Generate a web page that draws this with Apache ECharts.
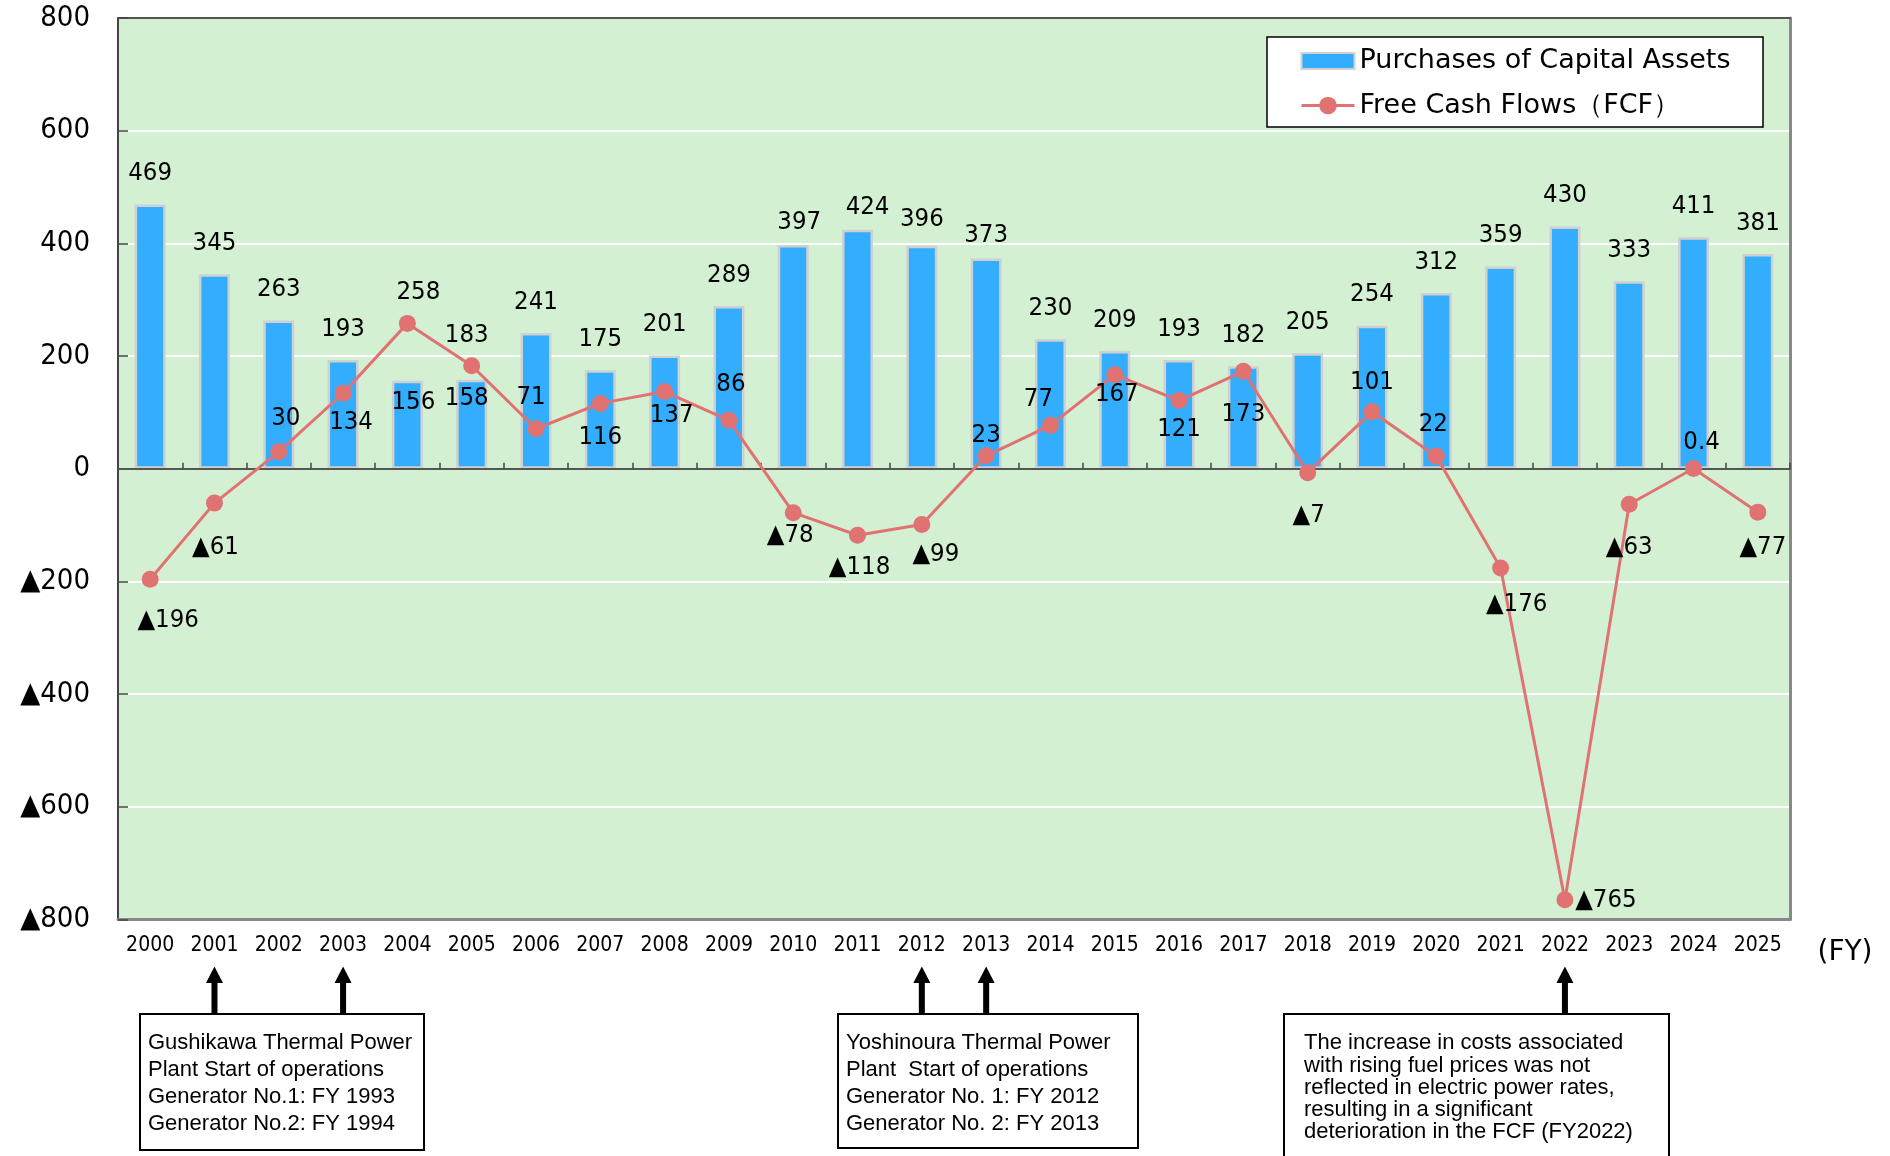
<!DOCTYPE html>
<html>
<head>
<meta charset="utf-8">
<title>Purchases of Capital Assets and Free Cash Flows</title>
<script src="https://cdn.jsdelivr.net/npm/echarts@6/dist/echarts.min.js"></script>
<style>
  html, body { margin: 0; padding: 0; background: #ffffff; }
  #chart { width: 1890px; height: 1156px; }
</style>
</head>
<body>
<div id="chart"></div>
<script>
// Fiscal years on the category axis
const years = ['2000','2001','2002','2003','2004','2005','2006','2007','2008','2009',
  '2010','2011','2012','2013','2014','2015','2016','2017','2018','2019',
  '2020','2021','2022','2023','2024','2025'];

// Purchases of capital assets
const capex = [469, 345, 263, 193, 156, 158, 241, 175, 201, 289,
  397, 424, 396, 373, 230, 209, 193, 182, 205, 254,
  312, 359, 430, 333, 411, 381];

// Free cash flows (negative values are printed with a ▲ prefix)
const fcf = [-196, -61, 30, 134, 258, 183, 71, 116, 137, 86,
  -78, -118, -99, 23, 77, 167, 121, 173, -7, 101,
  22, -176, -765, -63, 0.4, -77];

// Value-axis ticks
const yMin = -800, yMax = 800, yStep = 200;

// Label nudges [dx, dy] so the labels sit clear of the line and bars
const barLabelNudge = {
  '2004': [6, 52.6], '2005': [-5, 49.2], '2010': [6, 8.4],
  '2011': [10, 8.6], '2012': [0, 4.3], '2013': [0, 7.4]
};
const fcfLabelNudge = [
  [18, 41], [1, 44], [7, -33], [8, 29], [11, -31], [-5, -30], [-5, -31], [0, 34], [7, 24], [2, -36],
  [-3, 23], [2, 32], [14, 30], [0, -20], [-12, -26], [2, 20], [0, 29], [0, 43], [1, 43], [0, -29],
  [-3, -32], [16, 36], [41, 1], [0, 43], [8, -26], [5, 35]
];

// Notes under the axis: the years they point at and their text
const notes = [
  { years: ['2001', '2003'], box: [140, 1014, 284, 136], lineHeight: 27, pad: [8, 15.5],
    text: 'Gushikawa Thermal Power\nPlant Start of operations\nGenerator No.1: FY 1993\nGenerator No.2: FY 1994' },
  { years: ['2012', '2013'], box: [838, 1014, 300, 134], lineHeight: 27, pad: [8, 15.5],
    text: 'Yoshinoura Thermal Power\nPlant  Start of operations\nGenerator No. 1: FY 2012\nGenerator No. 2: FY 2013' },
  { years: ['2022'], box: [1284, 1014, 385, 160], lineHeight: 22.3, pad: [20, 18],
    text: 'The increase in costs associated\nwith rising fuel prices was not\nreflected in electric power rates,\nresulting in a significant\ndeterioration in the FCF (FY2022)' }
];

const NUM_FONT = '"DejaVu Sans Condensed", "Noto Sans", sans-serif';
const fmtSigned = v => (v < 0 ? '▲' + Math.abs(v) : String(v));

const chart = echarts.init(document.getElementById('chart'), null, { renderer: 'canvas' });

const barData = capex.map((v, i) => {
  const n = barLabelNudge[years[i]];
  return n ? { value: v, label: { offset: n } } : v;
});
const lineData = fcf.map((v, i) => ({ value: v, label: { offset: fcfLabelNudge[i] } }));

chart.setOption({
  backgroundColor: '#ffffff',
  animation: false,
  grid: {
    left: 118, right: 100, top: 18, bottom: 236.5,
    show: true, backgroundColor: '#D3F0D3', borderWidth: 0
  },
  legend: {
    orient: 'vertical', left: 1300, top: 47.5, z: 6,
    itemWidth: 53, itemHeight: 22, itemGap: 17.5, padding: 0,
    symbolKeepAspect: true,
    lineStyle: { width: 3 },
    textStyle: { fontSize: 27, lineHeight: 26, color: '#000', fontFamily: '"DejaVu Sans", sans-serif' },
    data: [
      { name: 'Purchases of Capital Assets', icon: 'path://M0,0 H53 V16 H0 Z' },
      { name: 'Free Cash Flows（FCF）' }
    ]
  },
  xAxis: [
    { // axis line drawn along zero
      type: 'category', data: years, z: 3,
      axisLine: { onZero: true, lineStyle: { color: '#555', width: 2 } },
      axisTick: { show: true, inside: true, length: 6, lineStyle: { color: '#444', width: 1.5 } },
      axisLabel: { show: false }, splitLine: { show: false }
    },
    { // bottom frame with year labels
      type: 'category', data: years, position: 'bottom',
      axisLine: { onZero: false, lineStyle: { color: '#888', width: 3 } },
      axisTick: { show: false },
      axisLabel: { fontSize: 21, margin: 16, color: '#000', fontFamily: NUM_FONT },
      splitLine: { show: false }
    },
    { // top frame
      type: 'category', data: years, position: 'top',
      axisLine: { onZero: false, lineStyle: { color: '#555', width: 2 } },
      axisTick: { show: false }, axisLabel: { show: false }, splitLine: { show: false }
    }
  ],
  yAxis: [
    {
      type: 'value', min: yMin, max: yMax, interval: yStep,
      axisLine: { show: true, lineStyle: { color: '#444', width: 2 } },
      axisTick: { show: true, inside: true, length: 10, lineStyle: { color: '#444', width: 1.5 } },
      axisLabel: { fontSize: 29, margin: 28, color: '#000', fontFamily: NUM_FONT, formatter: fmtSigned },
      splitLine: { show: true, lineStyle: { color: '#ffffff', width: 2 } }
    },
    { // right frame
      type: 'value', min: yMin, max: yMax, interval: yStep, position: 'right',
      axisLine: { show: true, lineStyle: { color: '#888', width: 3 } },
      axisTick: { show: false }, axisLabel: { show: false }, splitLine: { show: false }
    }
  ],
  series: [
    {
      name: 'Purchases of Capital Assets', type: 'bar', data: barData,
      xAxisIndex: 0, yAxisIndex: 0, z: 2,
      barWidth: 31,
      itemStyle: { color: '#33AEFF', borderColor: '#D0D0D0', borderWidth: 2.5 },
      label: {
        show: true, position: 'top', distance: 18,
        fontSize: 25.5, color: '#000', fontFamily: NUM_FONT
      }
    },
    {
      name: 'Free Cash Flows（FCF）', type: 'line', data: lineData,
      xAxisIndex: 0, yAxisIndex: 0, z: 4,
      symbol: 'circle', symbolSize: 17,
      lineStyle: { color: '#E07272', width: 3 },
      itemStyle: { color: '#E07272' },
      label: {
        show: true, position: 'inside',
        fontSize: 25.5, color: '#000', fontFamily: NUM_FONT,
        formatter: p => fmtSigned(p.value)
      }
    }
  ]
});

// Legend frame, arrows and note boxes below the chart
const graphics = [];
graphics.push({
  type: 'rect', z: 5,
  shape: { x: 1267, y: 37, width: 496, height: 90 },
  style: { fill: '#ffffff', stroke: '#000', lineWidth: 1.5 }
});
graphics.push({
  type: 'text', z: 5,
  style: { text: '(FY)', x: 1845, y: 953, align: 'center', verticalAlign: 'middle',
    font: '28px "DejaVu Sans", sans-serif', fill: '#000' }
});
notes.forEach(note => {
  const [bx, by, bw, bh] = note.box;
  note.years.forEach(y => {
    const cx = chart.convertToPixel({ xAxisIndex: 0 }, y);
    graphics.push({ type: 'rect', z: 5, shape: { x: cx - 3, y: 982, width: 6, height: by - 982 },
      style: { fill: '#000' } });
    graphics.push({ type: 'polygon', z: 5,
      shape: { points: [[cx, 966.5], [cx - 8.5, 983], [cx + 8.5, 983]] }, style: { fill: '#000' } });
  });
  graphics.push({ type: 'rect', z: 5, shape: { x: bx, y: by, width: bw, height: bh },
    style: { fill: '#ffffff', stroke: '#000', lineWidth: 2 } });
  graphics.push({ type: 'text', z: 6,
    style: { text: note.text, x: bx + note.pad[0], y: by + note.pad[1],
      font: '22px "Liberation Sans", Arial, sans-serif', lineHeight: note.lineHeight,
      fill: '#000', verticalAlign: 'top' } });
});
chart.setOption({ graphic: graphics });
</script>
</body>
</html>
